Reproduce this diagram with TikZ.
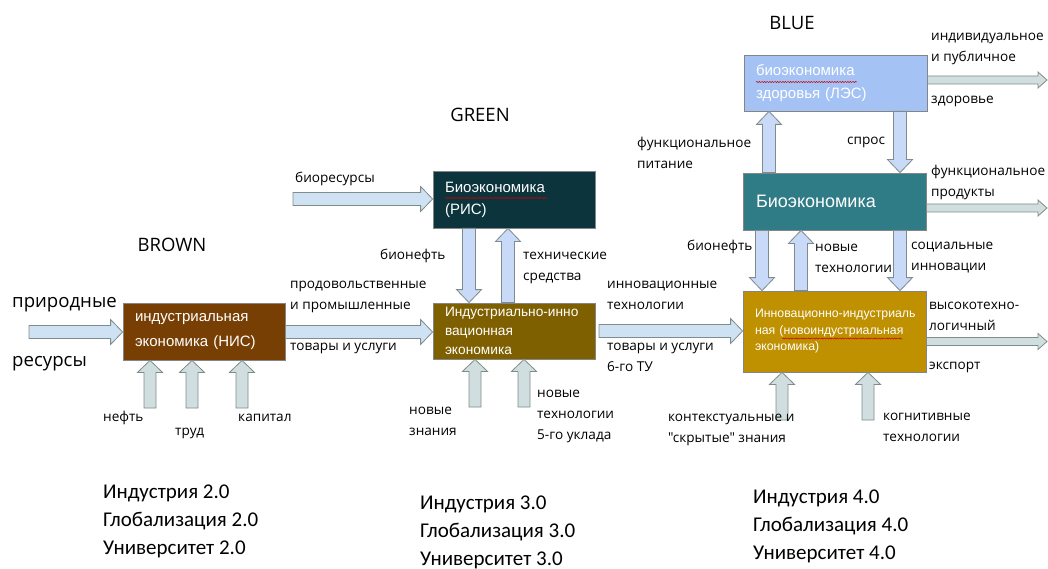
\documentclass[tikz,border=0pt]{standalone}
\usepackage{fontspec}
\setmainfont{Open Sans}
\newfontfamily\osplain[Ligatures=ResetAll]{Open Sans}
\newfontfamily\arialfam{Liberation Sans}
\newfontfamily\calfam{Carlito}
\usetikzlibrary{calc,decorations.pathmorphing}

\definecolor{cBrown}{HTML}{783F04}
\definecolor{cRis}{HTML}{0C343D}
\definecolor{cII}{HTML}{7F6000}
\definecolor{cLes}{HTML}{A4C2F4}
\definecolor{cBio}{HTML}{2F7B86}
\definecolor{cInn}{HTML}{BF9000}
\definecolor{aBlue}{HTML}{CFE2F3}
\definecolor{aCorn}{HTML}{C9DAF8}
\definecolor{aGray}{HTML}{D0DEDF}
\definecolor{aLine}{HTML}{7E8C8C}
\definecolor{boxLine}{HTML}{858585}

% block arrow: #1 style, #2 tail, #3 tip, #4 shaft half width, #5 head half width, #6 head length
\newcommand\barrow[6]{%
  \path[#1] let \p1=(#2), \p2=(#3),
    \n1={veclen(\x2-\x1,\y2-\y1)},
    \n2={(\x2-\x1)/\n1}, \n3={(\y2-\y1)/\n1},
    \n4={\n1-#6}
  in ({\x1-(\n3)*#4pt},{\y1+(\n2)*#4pt})
  -- ({\x1+(\n2)*\n4*1pt-(\n3)*#4pt},{\y1+(\n3)*\n4*1pt+(\n2)*#4pt})
  -- ({\x1+(\n2)*\n4*1pt-(\n3)*#5pt},{\y1+(\n3)*\n4*1pt+(\n2)*#5pt})
  -- (\p2)
  -- ({\x1+(\n2)*\n4*1pt+(\n3)*#5pt},{\y1+(\n3)*\n4*1pt-(\n2)*#5pt})
  -- ({\x1+(\n2)*\n4*1pt+(\n3)*#4pt},{\y1+(\n3)*\n4*1pt-(\n2)*#4pt})
  -- ({\x1+(\n3)*#4pt},{\y1-(\n2)*#4pt}) -- cycle;}

\begin{document}
\begin{tikzpicture}[x=1pt,y=-1pt,
  box/.style={draw=boxLine, line width=0.8pt, inner xsep=12pt, inner ysep=0pt,
    align=left, text=white},
  ablue/.style={fill=aBlue, draw=aLine, line width=0.8pt},
  acorn/.style={fill=aCorn, draw=aLine, line width=0.8pt},
  agray/.style={fill=aGray, draw=aLine, line width=0.8pt},
  lbl/.style={font=\fontsize{13.6}{21}\selectfont, inner sep=0pt, align=left,
    anchor=west, text=black},
  bigl/.style={font=\fontsize{18.6}{22}\selectfont, inner sep=0pt, anchor=west, text=black},
  ttl/.style={font=\fontsize{18.5}{22}\selectfont, inner sep=0pt, text=black},
  era/.style={font=\calfam\fontsize{21}{28}\selectfont, inner sep=0pt, align=left,
    anchor=north west, text=black},
  wavy/.style={draw=red!80!black, line width=0.5pt, decorate,
    decoration={snake, amplitude=0.6pt, segment length=2.6pt}}]

\useasboundingbox (0,0) rectangle (1048,569);

% ---------- boxes ----------
\node[box, fill=cBrown, minimum width=162pt, minimum height=57pt, text width=138pt,
  font=\arialfam\fontsize{15}{25}\selectfont] (nis) at (204,331.5)
  {индустриальная\\экономика (НИС)};
\node[box, fill=cRis, minimum width=162pt, minimum height=57pt, text width=138pt,
  font=\arialfam\fontsize{15}{22}\selectfont] (ris) at (514,199.5)
  {Биоэкономика\\(РИС)};
\node[box, fill=cII, minimum width=162pt, minimum height=56pt, text width=138pt,
  font=\arialfam\fontsize{13.7}{19}\selectfont] (ii) at (514,331)
  {\mbox{Индустриально-инно}\\вационная\\экономика};
\node[box, fill=cLes, minimum width=183pt, minimum height=56pt, text width=159pt,
  font=\arialfam\fontsize{15}{23}\selectfont] (les) at (835.5,83)
  {биоэкономика\\здоровья (ЛЭС)};
\node[box, fill=cBio, minimum width=183pt, minimum height=57pt, text width=157pt,
  inner xsep=13pt, font=\arialfam\fontsize{18}{22}\selectfont] (bio) at (834.5,201.5)
  {Биоэкономика};
\node[box, fill=cInn, minimum width=183pt, minimum height=81pt, text width=159pt,
  font=\arialfam\fontsize{12.3}{16.5}\selectfont] (inn) at (834.5,331.5)
  {\mbox{Инновационно-индустриаль}\\\mbox{ная (новоиндустриальная}\\экономика)};

% spell-check underlines
\draw[wavy] (445,198) -- (547,198);
\draw[wavy] (756,82) -- (857,82);
\draw[wavy] (782,338.5) -- (902,338.5);

% ---------- coordinates ----------
\coordinate (s1) at (29,332);
\coordinate (s2) at (293,199);
\coordinate (s3) at (599,331);
\coordinate (n1) at (150,408);
\coordinate (n2) at (192,408);
\coordinate (n3) at (242,408);
\coordinate (m1) at (475,407);
\coordinate (m2) at (524,407);
\coordinate (k1) at (782,420);
\coordinate (k2) at (868,420);
\coordinate (v1) at (469,0);
\coordinate (v2) at (508,0);
\coordinate (b1) at (769,0);
\coordinate (b2) at (900,0);
\coordinate (b3) at (762,0);
\coordinate (b4) at (801,0);
\coordinate (o1) at (1047,80);
\coordinate (o2) at (1047,208);
\coordinate (o3) at (1047,341.5);

% ---------- horizontal flows ----------
\barrow{ablue}{s1}{nis.west |- s1}{6.5}{12.5}{12}
\barrow{ablue}{nis.east |- s1}{ii.west |- s1}{6.5}{12.5}{12}
\barrow{ablue}{s2}{ris.west |- s2}{6.5}{12.5}{12}
\barrow{ablue}{s3}{inn.west |- s3}{6.5}{12.5}{12}

% ---------- outputs ----------
\barrow{agray}{les.east |- o1}{o1}{4}{8}{9}
\barrow{agray}{bio.east |- o2}{o2}{4}{8}{9}
\barrow{agray}{inn.east |- o3}{o3}{4}{8}{9}

% ---------- inputs from below ----------
\barrow{agray}{n1}{nis.south -| n1}{6}{12.5}{12}
\barrow{agray}{n2}{nis.south -| n2}{6}{12.5}{12}
\barrow{agray}{n3}{nis.south -| n3}{6}{12.5}{12}
\barrow{agray}{m1}{ii.south -| m1}{6}{12.5}{12}
\barrow{agray}{m2}{ii.south -| m2}{6}{12.5}{12}
\barrow{agray}{k1}{inn.south -| k1}{6}{12.5}{12}
\barrow{agray}{k2}{inn.south -| k2}{6}{12.5}{12}

% ---------- vertical exchanges ----------
\barrow{acorn}{ris.south -| v1}{ii.north -| v1}{6.5}{12.5}{13}
\barrow{acorn}{ii.north -| v2}{ris.south -| v2}{6.5}{12.5}{13}
\barrow{acorn}{bio.north -| b1}{les.south -| b1}{6.5}{12.5}{13}
\barrow{acorn}{les.south -| b2}{bio.north -| b2}{6.5}{12.5}{13}
\barrow{acorn}{bio.south -| b3}{inn.north -| b3}{6.5}{12.5}{13}
\barrow{acorn}{inn.north -| b4}{bio.south -| b4}{6.5}{12.5}{13}
\barrow{acorn}{bio.south -| b2}{inn.north -| b2}{6.5}{12.5}{13}

% ---------- titles ----------
\node[ttl] (tbrown) at (172,245) {BROWN};
\node[ttl] (tgreen) at (480,115) {GREEN};
\node[ttl] (tblue) at (792,23) {BLUE};

% ---------- labels ----------
\node[bigl] (l1) at (12,305) {природные};
\node[bigl] (l2) at (12,364) {ресурсы};
\node[lbl] (l3) at (290,296.5) {продовольственные\\и промышленные};
\node[lbl] (l4) at (290,348) {товары и услуги};
\node[lbl] (l5) at (103,418) {нефть};
\node[lbl] (l6) at (175,433) {труд};
\node[lbl] (l7) at (238,418) {капитал};
\node[lbl] (l8) at (295,179) {биоресурсы};
\node[lbl] (l9) at (380,256) {бионефть};
\node[lbl] (l10) at (523,268) {технические\\средства};
\node[lbl] (l11) at (409,421.5) {новые\\знания};
\node[lbl] (l12) at (537,416.5) {новые\\технологии\\5-го уклада};
\node[lbl] (l13) at (607,295) {инновационные\\технологии};
\node[lbl] (l14) at (607,357.5) {товары и услуги\\6-го ТУ};
\node[lbl] (l15) at (931,49) {индивидуальное\\и публичное};
\node[lbl] (l16) at (931,101) {здоровье};
\node[lbl] (l17) at (637,152.5) {функциональное\\питание};
\node[lbl] (l18) at (847,142) {спрос};
\node[lbl] (l19) at (931,182) {функциональное\\продукты};
\node[lbl] (l20) at (687,247) {бионефть};
\node[lbl] (l21) at (815,258) {новые\\технологии};
\node[lbl] (l22) at (911,258) {социальные\\инновации};
\node[lbl] (l23) at (929,316) {высокотехно-\\логичный};
\node[lbl] (l24) at (929,367) {экспорт};
\node[lbl] (l25) at (668,429.5) {контекстуальные и\\{\osplain "скрытые"} знания};
\node[lbl] (l26) at (883,427) {когнитивные\\технологии};

% ---------- eras ----------
\node[era] (e2) at (103,485) {Индустрия 2.0\\Глобализация 2.0\\Университет 2.0};
\node[era] (e3) at (420,496) {Индустрия 3.0\\Глобализация 3.0\\Университет 3.0};
\node[era] (e4) at (753,490) {Индустрия 4.0\\Глобализация 4.0\\Университет 4.0};
\end{tikzpicture}
\end{document}
